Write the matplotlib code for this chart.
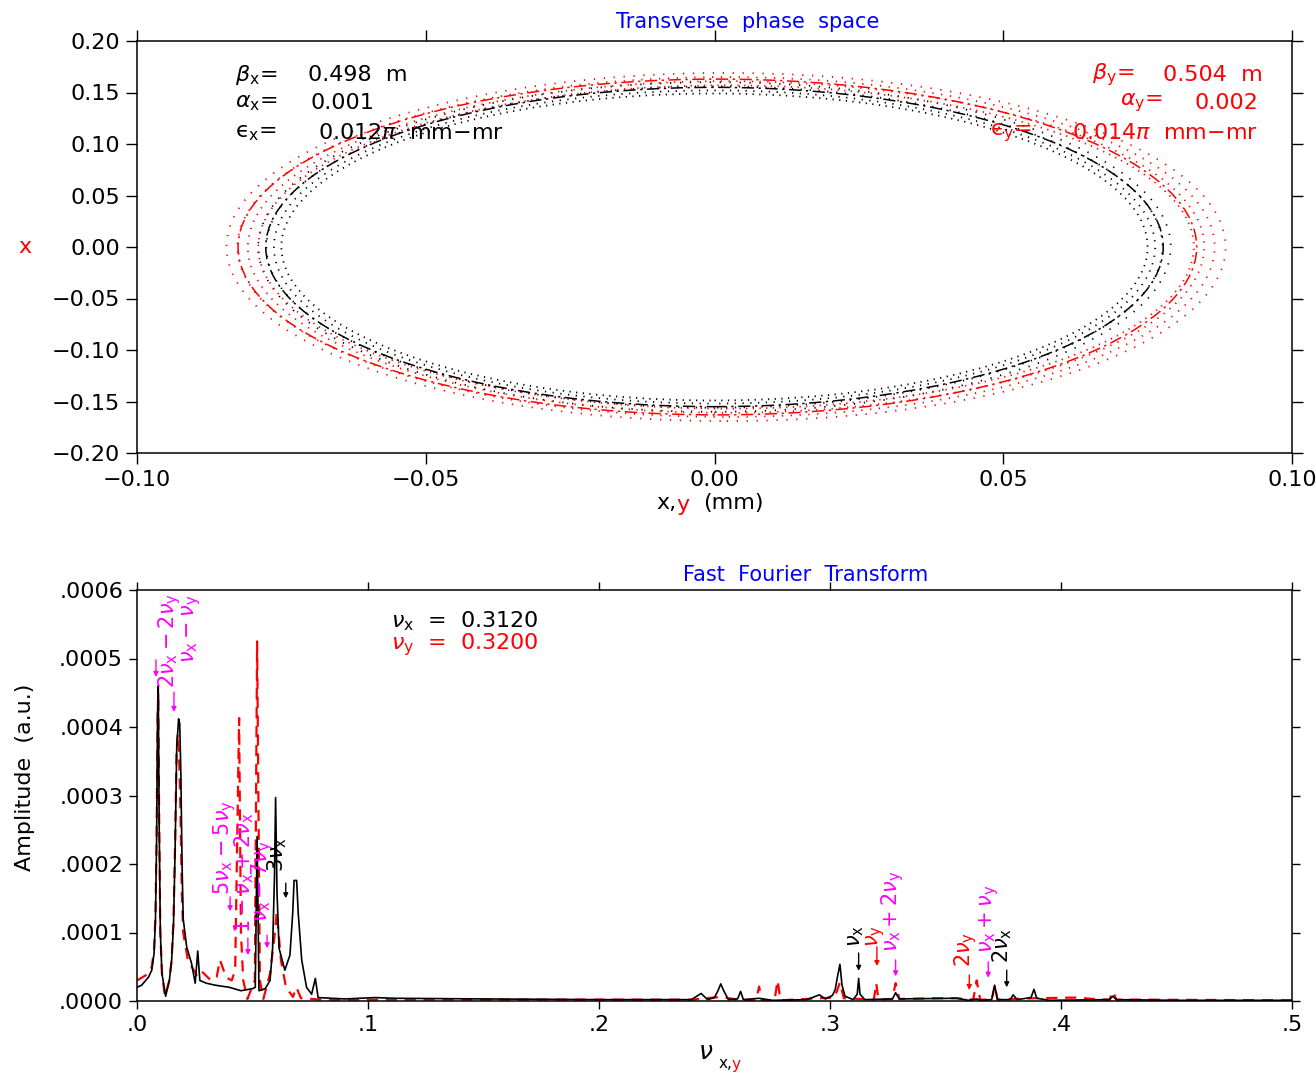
import matplotlib
matplotlib.use('Agg')
import matplotlib.pyplot as plt
from matplotlib.patches import Ellipse

plt.rcParams['font.family'] = ['DejaVu Sans']
plt.rcParams['mathtext.fontset'] = 'dejavusans'

# ---- phase space data (ellipse fits and scatter bands) ----
beta_x, alpha_x, eps_x = 0.498, 0.001, 0.012
beta_y, alpha_y, eps_y = 0.504, 0.002, 0.014
fit_center = [0.0, 0.0005]          # x centre of fitted ellipse (black, red)
fit_semi_x = [0.0777, 0.0830]
fit_semi_y = [0.1550, 0.1630]
# turn-by-turn points, drawn as dotted bands (inner -> outer)
band_center = [0.0, 0.002]
band_x_black = [0.0750, 0.0763, 0.0776, 0.0790]
band_y_black = [0.1490, 0.1520, 0.1560, 0.1600]
band_x_red = [0.0810, 0.0828, 0.0846, 0.0865]
band_y_red = [0.1570, 0.1610, 0.1650, 0.1690]

x1_ticks = [-0.10, -0.05, 0.00, 0.05, 0.10]
x1_labels = ['\u22120.10', '\u22120.05', '0.00', '0.05', '0.10']
y1_ticks = [-0.20, -0.15, -0.10, -0.05, 0.00, 0.05, 0.10, 0.15, 0.20]
y1_labels = ['\u22120.20', '\u22120.15', '\u22120.10', '\u22120.05', '0.00',
             '0.05', '0.10', '0.15', '0.20']

# ---- FFT spectrum (amplitude in units of 1e-4) ----
nu_x, nu_y = 0.3120, 0.3200
fx_black = [0.000, 0.002, 0.0050, 0.0064, 0.0074, 0.0080, 0.0085, 0.0089, 0.0092,
            0.0096, 0.0101, 0.0108, 0.0124,
            0.0140, 0.0150, 0.0158, 0.0165, 0.0172, 0.0180, 0.0185, 0.0190, 0.0195,
            0.0200, 0.0215, 0.0236,
            0.0252, 0.0263, 0.0272, 0.0300, 0.0340, 0.0400, 0.0450, 0.0500, 0.0512,
            0.0520, 0.0528, 0.0555, 0.0576, 0.0587, 0.0595, 0.0600, 0.0606, 0.0615,
            0.0640, 0.0662,
            0.0674, 0.0680, 0.0691, 0.0698, 0.0713, 0.0734, 0.0756, 0.0772, 0.0784,
            0.0900, 0.1030, 0.1110, 0.1500, 0.2000, 0.2400, 0.2442, 0.2470, 0.2500,
            0.2515, 0.2527, 0.2540, 0.2560, 0.2600, 0.2613, 0.2625, 0.2693, 0.2750,
            0.2900, 0.2954, 0.2980, 0.3010, 0.3022, 0.3035, 0.3043, 0.3052, 0.3065,
            0.3100, 0.3118, 0.3124, 0.3130, 0.3150, 0.3270, 0.3284, 0.3300, 0.3548,
            0.3600, 0.3635, 0.3650, 0.3700, 0.3713, 0.3725, 0.3780, 0.3793, 0.3810,
            0.3870, 0.3883, 0.3895, 0.3950, 0.4210, 0.4224, 0.4240, 0.4500, 0.5000]
amp_black = [0.20, 0.23, 0.35, 0.45, 0.70, 1.20, 2.40, 4.20, 4.60,
             2.60, 1.00, 0.40, 0.07,
             0.30, 0.60, 1.10, 2.20, 3.70, 4.12, 4.05, 3.30, 2.00,
             1.20, 0.79, 0.55,
             0.26, 0.73, 0.30, 0.26, 0.23, 0.20, 0.15, 0.18, 0.20,
             2.40, 0.15, 0.18, 0.30, 0.77, 1.80, 2.97, 1.60, 0.77,
             0.45, 0.67,
             1.28, 1.76, 1.76, 1.28, 0.60, 0.20, 0.10, 0.33, 0.05,
             0.03, 0.05, 0.04, 0.03, 0.02, 0.02, 0.11, 0.02, 0.05,
             0.15, 0.25, 0.15, 0.02, 0.03, 0.14, 0.02, 0.04, 0.01,
             0.02, 0.09, 0.03, 0.08, 0.16, 0.40, 0.535, 0.23, 0.07,
             0.02, 0.10, 0.33, 0.10, 0.02, 0.03, 0.12, 0.03, 0.04,
             0.01, 0.03, 0.01, 0.02, 0.23, 0.02, 0.02, 0.09, 0.02,
             0.05, 0.17, 0.04, 0.01, 0.02, 0.07, 0.02, 0.01, 0.01]
fx_red = [0.000, 0.002, 0.0050, 0.0064, 0.0074, 0.0080, 0.0085, 0.0089, 0.0092,
          0.0096, 0.0101, 0.0108, 0.0121,
          0.0140, 0.0150, 0.0158, 0.0165, 0.0171, 0.0176, 0.0182, 0.0188, 0.0194,
          0.0200, 0.0220, 0.0258, 0.0275,
          0.0320, 0.0345, 0.0359, 0.0375, 0.0388, 0.0410, 0.0425, 0.0442, 0.0450,
          0.0460, 0.0478, 0.0510, 0.0520, 0.0532, 0.0547, 0.0576, 0.0597, 0.0605,
          0.0623, 0.0645, 0.0675, 0.0690, 0.0710, 0.0800, 0.1500, 0.2400, 0.2527,
          0.2600, 0.2680, 0.2693, 0.2705, 0.2760, 0.2773, 0.2786, 0.2954, 0.3020,
          0.3043, 0.3060, 0.3124, 0.3190, 0.3200, 0.3210, 0.3270, 0.3284, 0.3300,
          0.3455, 0.3548, 0.3620, 0.3635, 0.3650, 0.3700, 0.3713, 0.3725, 0.3883,
          0.4063, 0.4139, 0.4210, 0.4224, 0.4240, 0.4300, 0.5000]
amp_red = [0.30, 0.34, 0.40, 0.50, 0.75, 1.25, 2.40, 4.10, 4.50,
           2.60, 1.00, 0.40, 0.07,
           0.30, 0.60, 1.20, 2.30, 3.60, 3.90, 3.60, 2.80, 1.60,
           1.00, 0.60, 0.38, 0.45,
           0.30, 0.35, 0.60, 0.45, 0.34, 0.30, 0.45, 4.13, 1.00,
           0.30, 0.03, 0.30, 5.25, 0.30, 0.03, 0.40, 1.00, 1.30,
           0.60, 0.20, 0.06, 0.20, 0.04, 0.02, 0.02, 0.02, 0.06,
           0.02, 0.01, 0.21, 0.01, 0.01, 0.30, 0.01, 0.04, 0.05,
           0.27, 0.04, 0.03, 0.02, 0.26, 0.02, 0.03, 0.26, 0.03,
           0.04, 0.04, 0.02, 0.30, 0.02, 0.02, 0.23, 0.02, 0.04,
           0.05, 0.03, 0.02, 0.14, 0.02, 0.02, 0.01]

x2_ticks = [0.0, 0.1, 0.2, 0.3, 0.4, 0.5]
x2_labels = ['.0', '.1', '.2', '.3', '.4', '.5']
y2_ticks = [0.0, 0.0001, 0.0002, 0.0003, 0.0004, 0.0005, 0.0006]
y2_labels = ['.0000', '.0001', '.0002', '.0003', '.0004', '.0005', '.0006']

# resonance labels: text, colour, baseline freq, start amplitude (1e-4)
res_text = [r'$2\nu_{\rm x}-2\nu_{\rm y}$', r'$\nu_{\rm x}-\nu_{\rm y}$',
            r'$5\nu_{\rm x}-5\nu_{\rm y}$', r'$1-\nu_{\rm x}+2\nu_{\rm x}$',
            r'$\nu_{\rm x}-7\nu_{\rm y}$', r'$3\nu_{\rm x}$',
            r'$\nu_{\rm x}$', r'$\nu_{\rm y}$', r'$\nu_{\rm x}+2\nu_{\rm y}$',
            r'$2\nu_{\rm y}$', r'$\nu_{\rm x}+\nu_{\rm y}$', r'$2\nu_{\rm x}$']
res_color = ['magenta', 'magenta', 'magenta', 'magenta', 'magenta', 'black',
             'black', 'red', 'magenta', 'red', 'magenta', 'black']
res_f = [0.0160, 0.0247, 0.0398, 0.0489, 0.0563, 0.0632,
         0.3130, 0.3208, 0.3290, 0.3606, 0.3701, 0.3771]
res_a = [4.57, 4.93, 1.55, 0.99, 1.15, 1.88,
         0.79, 0.79, 0.72, 0.50, 0.70, 0.55]
# arrows: freq, tail amplitude, head amplitude (1e-4)
arr_f = [0.0082, 0.0160, 0.0403, 0.0480, 0.0563, 0.0644,
         0.3124, 0.3203, 0.3284, 0.3603, 0.3685, 0.3765]
arr_a0 = [4.98, 4.51, 1.52, 0.92, 0.96, 1.72, 0.70, 0.79, 0.60, 0.38, 0.57, 0.45]
arr_a1 = [4.73, 4.22, 1.31, 0.67, 0.77, 1.50, 0.44, 0.51, 0.36, 0.16, 0.34, 0.20]
arr_color = ['magenta'] * 5 + ['black', 'black', 'red', 'magenta', 'red', 'magenta', 'black']

W, H = 1316, 1073
fig = plt.figure(figsize=(W / 100, H / 100), dpi=100)


def fx(px):
    return px / W


def fy(py):
    return 1 - py / H


ax1 = fig.add_axes([fx(137), fy(453), fx(1292) - fx(137), fy(41) - fy(453)])
ax2 = fig.add_axes([fx(137), fy(1001), fx(1292) - fx(137), fy(590) - fy(1001)])

# ---- upper panel ----
for cx, band_x, band_y, col in zip(band_center, [band_x_black, band_x_red],
                                   [band_y_black, band_y_red], ['black', 'red']):
    for k, (a, b) in enumerate(zip(band_x, band_y)):
        ax1.add_patch(Ellipse((cx, 0), 2 * a, 2 * b, fill=False, color=col, lw=1.3,
                              ls=(k * 1.7, (0.7, 3.0 + 0.6 * k))))
for cx, a, b, col in zip(fit_center, fit_semi_x, fit_semi_y, ['black', 'red']):
    ax1.add_patch(Ellipse((cx, 0), 2 * a, 2 * b, fill=False, color=col, lw=1.1,
                          ls=(0, (8, 3, 1.5, 3))))

ax1.set_xlim(-0.10, 0.10)
ax1.set_ylim(-0.20, 0.20)
ax1.set_xticks(x1_ticks)
ax1.set_xticklabels(x1_labels)
ax1.set_yticks(y1_ticks)
ax1.set_yticklabels(y1_labels)

# ---- lower panel ----
ax2.plot(fx_red, [v * 1e-4 for v in amp_red], color='red', lw=1.6, dashes=(5, 3.5))
ax2.plot(fx_black, [v * 1e-4 for v in amp_black], color='black', lw=1.2)
ax2.set_xlim(0, 0.5)
ax2.set_ylim(0, 0.0006)
ax2.set_xticks(x2_ticks)
ax2.set_xticklabels(x2_labels)
ax2.set_yticks(y2_ticks)
ax2.set_yticklabels(y2_labels)

for t, c, f, a in zip(res_text, res_color, res_f, res_a):
    ax2.text(f, a * 1e-4, t, color=c, fontsize=15, rotation=90,
             rotation_mode='anchor', ha='left', va='baseline')
for f, a0, a1, c in zip(arr_f, arr_a0, arr_a1, arr_color):
    ax2.annotate('', xy=(f, a1 * 1e-4), xytext=(f, a0 * 1e-4),
                 arrowprops=dict(arrowstyle='-|>', color=c, lw=1, mutation_scale=7,
                                 shrinkA=0, shrinkB=0))

for ax, tl in [(ax1, 8), (ax2, 6)]:
    ax.tick_params(direction='out', length=tl, width=1, labelsize=16, pad=4,
                   top=True, right=True)
    for s in ax.spines.values():
        s.set_linewidth(1.1)

# ---- titles and texts ----
fig.text(fx(748), fy(22), 'Transverse  phase  space', color='blue', fontsize=15,
         ha='center', va='center')
fig.text(fx(806), fy(575), 'Fast  Fourier  Transform', color='blue', fontsize=15,
         ha='center', va='center')
fig.text(fx(25), fy(247), 'x', color='red', fontsize=16, ha='center', va='center')
fig.text(fx(656), fy(503), 'x,', color='black', fontsize=16, va='center')
fig.text(fx(676), fy(505), 'y', color='red', fontsize=16, va='center')
fig.text(fx(703), fy(503), '(mm)', color='black', fontsize=16, va='center')
fig.text(fx(25), fy(777), 'Amplitude  (a.u.)', fontsize=16, rotation=90,
         ha='center', va='center')
fig.text(fx(698), fy(1052), r'$\nu$', fontsize=18, va='center')
fig.text(fx(719), fy(1064), 'x,', fontsize=11, va='center')
fig.text(fx(732), fy(1065), 'y', fontsize=11, color='red', va='center')

tx = dict(fontsize=16, va='center')
fig.text(fx(235), fy(75), r'$\beta_{\rm x}$=', **tx)
fig.text(fx(308), fy(75), '%.3f  m' % beta_x, **tx)
fig.text(fx(235), fy(103), r'$\alpha_{\rm x}$=', **tx)
fig.text(fx(310), fy(103), '%.3f' % alpha_x, **tx)
fig.text(fx(235), fy(133), '\u03f5$_{\\rm x}$=', **tx)
fig.text(fx(318), fy(133), r'%.3f$\pi$  mm$-$mr' % eps_x, **tx)

fig.text(fx(1092), fy(75), r'$\beta_{\rm y}$=', color='red', **tx)
fig.text(fx(1163), fy(75), '%.3f  m' % beta_y, color='red', **tx)
fig.text(fx(1120), fy(103), r'$\alpha_{\rm y}$=', color='red', **tx)
fig.text(fx(1195), fy(103), '%.3f' % alpha_y, color='red', **tx)
fig.text(fx(990), fy(133), '\u03f5$_{\\rm y}$=', color='red', **tx)
fig.text(fx(1072), fy(133), r'%.3f$\pi$  mm$-$mr' % eps_y, color='red', **tx)

fig.text(fx(391), fy(621), r'$\nu_{\rm x}$  =  %.4f' % nu_x, **tx)
fig.text(fx(391), fy(645), r'$\nu_{\rm y}$  =  %.4f' % nu_y, color='red', **tx)

fig.savefig('out.png', dpi=100)
